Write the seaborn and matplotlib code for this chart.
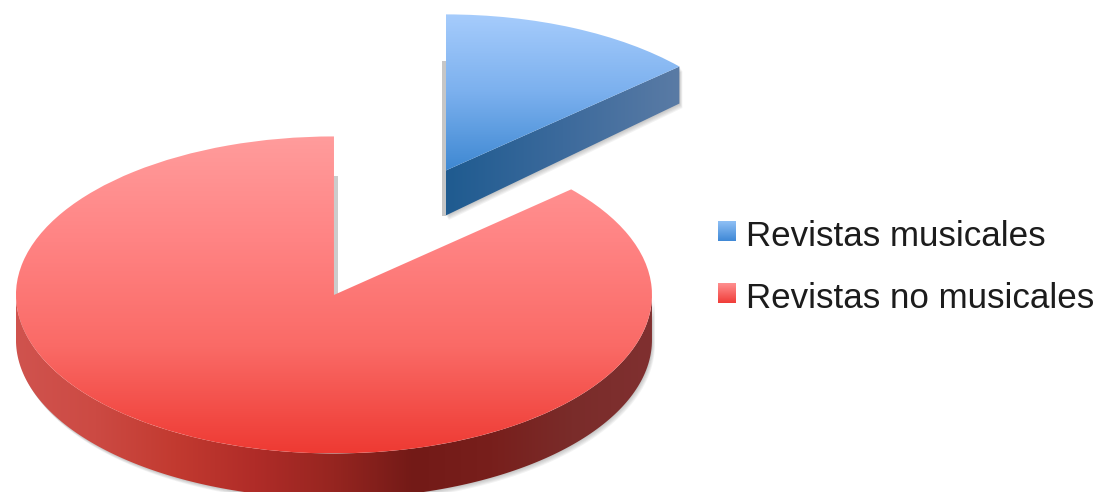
import numpy as np
import matplotlib
matplotlib.use("Agg")
import matplotlib.pyplot as plt
from matplotlib.patches import Polygon, Patch
import seaborn as sns

labels = ["Revistas musicales", "Revistas no musicales"]
shares = [13.4, 86.6]

top_blue = ["#a6ccfc", "#7bb0ee", "#3e88d2"]
top_red = ["#ff9c9c", "#ff8383", "#fa6a66", "#ee3a33"]
side_blue = ["#1f5b90", "#3c6a9c", "#5a7ba5"]
side_red = ["#d0534e", "#cc4a43", "#c23a30", "#b02c28", "#962520", "#731a17", "#781f1c", "#7a2c2a", "#803030"]
legend_blue = ["#8fc0f5", "#3f88d6"]
legend_red = ["#ff9090", "#f03c38"]

sns.set_theme(style="white")
plt.rcParams["font.family"] = ["Liberation Sans", "DejaVu Sans"]

W, H = 1098, 492
RX, RY = 318.0, 158.5      # px per data unit
OX, OY = 390.5, 232.0      # px position of data origin
DEPTH = 45 / RY
BLUE_OUTER_DEPTH = 37 / RY

fig = plt.figure(figsize=(W / 100, H / 100), dpi=100)
ax = fig.add_axes([0, 0, 1, 1])

wedges, _ = ax.pie(shares, explode=[0.425, 0.435], startangle=90, counterclock=False,
                   colors=["none", "none"], radius=1)
xlim = (-OX / RX, (W - OX) / RX)
ylim = ((OY - H) / RY, OY / RY)


def grad(colors, extent, vertical, clip, zorder):
    cmap = sns.blend_palette(colors, as_cmap=True)
    arr = np.linspace(0, 1, 256)[:, None] if vertical else np.linspace(0, 1, 256)[None, :]
    im = ax.imshow(arr, cmap=cmap, vmin=0, vmax=1, extent=extent, aspect="auto",
                   origin="upper", zorder=zorder, interpolation="bilinear")
    if clip is not None:
        im.set_clip_path(clip)
    return im


def arc(w, a0, a1):
    t = np.radians(np.linspace(a0, a1, 180))
    cx, cy = w.center
    return np.c_[cx + w.r * np.cos(t), cy + w.r * np.sin(t)]


def poly(pts, **kw):
    return Polygon(pts, closed=True, transform=ax.transData, **kw)


blue, red = wedges
blue.set_radius(0.985)
bc, rc = np.array(blue.center), np.array(red.center)

# visible side walls
red_edge = arc(red, 180, 360)
red_wall = np.vstack([red_edge, (red_edge - [0, DEPTH])[::-1]])
blue_tip = arc(blue, blue.theta1, blue.theta1 + 0.01)[0]
blue_wall = np.array([bc, blue_tip, blue_tip - [0, BLUE_OUTER_DEPTH], bc - [0, DEPTH]])

# soft drop shadow under the walls
for k in range(1, 6):
    for wall in (red_wall, blue_wall):
        ax.add_patch(poly(wall + [k * 0.6 / RX, -k * 0.9 / RY], facecolor="#555555",
                          edgecolor="none", alpha=0.07, zorder=1))

# thin grey shadows along the vertical cut edges
ax.add_patch(poly(np.array([bc + [-4 / RX, -DEPTH], bc + [0, -DEPTH],
                            bc + [0, 0.69], bc + [-4 / RX, 0.69]]),
                  facecolor="#c6c6c6", edgecolor="none", zorder=1))
ax.add_patch(poly(np.array([rc + [0, 0], rc + [4 / RX, 0],
                            rc + [4 / RX, 0.75], rc + [0, 0.75]]),
                  facecolor="#cccccc", edgecolor="none", zorder=1))

# walls
rw = poly(red_wall, facecolor="none", edgecolor="none")
ax.add_patch(rw)
grad(side_red, (rc[0] - 1, rc[0] + 1, rc[1] - 1 - DEPTH, rc[1] + 0.1), False, rw, 2)
bw = poly(blue_wall, facecolor="none", edgecolor="none")
ax.add_patch(bw)
grad(side_blue, (bc[0], blue_tip[0], bc[1] - DEPTH, bc[1] + 0.7), False, bw, 2)

# top faces
grad(top_red, (rc[0] - 1, rc[0] + 1, rc[1] - 1, rc[1] + 1), True, red, 3)
grad(top_blue, (bc[0], bc[0] + 1, bc[1], bc[1] + 0.985), True, blue, 3)

ax.set_xlim(xlim)
ax.set_ylim(ylim)
ax.set_axis_off()

handles = [Patch(color=top_blue[1]), Patch(color=top_red[2])]
leg = ax.legend(handles, labels, loc="upper left", frameon=False, fontsize=25.2,
                bbox_to_anchor=(718 / W, 1 - 220 / H), bbox_transform=fig.transFigure,
                borderpad=0, borderaxespad=0, handlelength=0.5, handleheight=0.5,
                handletextpad=0.31, labelspacing=0.83, labelcolor="#1c1c1c")

# gradient swatches over the legend handles
fig.canvas.draw()
inv = ax.transData.inverted()
for h, cols in zip(leg.legend_handles, (legend_blue, legend_red)):
    bb = h.get_window_extent().transformed(inv)
    lift = 3 / RY
    h.set_visible(False)
    grad(cols, (bb.x0, bb.x1, bb.y0 + lift, bb.y1 + lift), True, None, 7)
ax.set_xlim(xlim)
ax.set_ylim(ylim)

fig.savefig("out.png", dpi=100, facecolor="white")
